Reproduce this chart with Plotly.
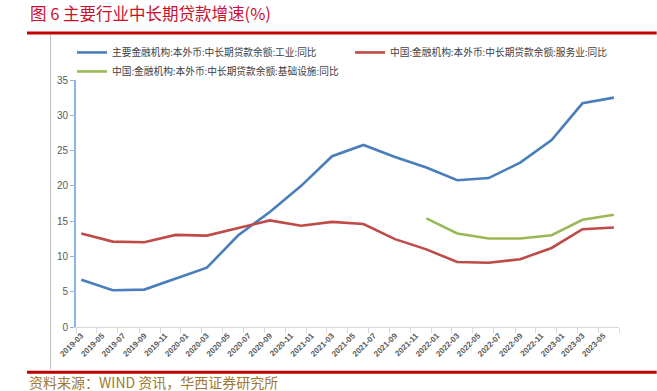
import plotly.graph_objects as go

# ---- data ----
quarters = ["2019-03", "2019-06", "2019-09", "2019-12", "2020-03", "2020-06", "2020-09", "2020-12",
            "2021-03", "2021-06", "2021-09", "2021-12", "2022-03", "2022-06", "2022-09", "2022-12",
            "2023-03", "2023-06"]
industry = [6.7, 5.2, 5.3, 6.9, 8.4, 13.0, 16.3, 20.0, 24.2, 25.8, 24.1, 22.6, 20.8, 21.1, 23.3, 26.5, 31.7, 32.5]
services = [13.25, 12.1, 12.0, 13.05, 12.95, 14.05, 15.1, 14.35, 14.9, 14.6, 12.45, 11.0, 9.2, 9.1, 9.6, 11.2, 13.85, 14.1]
infra_quarters = ["2021-12", "2022-03", "2022-06", "2022-09", "2022-12", "2023-03", "2023-06"]
infra = [15.4, 13.25, 12.55, 12.55, 13.0, 15.2, 15.9]

tick_months = ["2019-03", "2019-05", "2019-07", "2019-09", "2019-11", "2020-01", "2020-03", "2020-05",
               "2020-07", "2020-09", "2020-11", "2021-01", "2021-03", "2021-05", "2021-07", "2021-09",
               "2021-11", "2022-01", "2022-03", "2022-05", "2022-07", "2022-09", "2022-11", "2023-01",
               "2023-03", "2023-05"]

names = ["主要金融机构:本外币:中长期贷款余额:工业:同比",
         "中国:金融机构:本外币:中长期贷款余额:服务业:同比",
         "中国:金融机构:本外币:中长期贷款余额:基础设施:同比"]
colors = ["#4A7EBB", "#BE4B48", "#98B954"]

title_text = "图 6 主要行业中长期贷款增速(%)"
source_text = "资料来源：WIND 资讯，华西证券研究所"

W, H = 657, 391
plot_left, plot_right, plot_top, plot_bottom = 76, 619.3, 80, 326.7
L, T = plot_left, plot_top
R, B = W - plot_right, H - plot_bottom
pw, ph = W - L - R, H - T - B

def px(x):
    return (x - L) / pw

def py(y):
    return (H - B - y) / ph

CJK = "Noto Sans CJK SC"

fig = go.Figure()
for xs, ys, nm, c in [(quarters, industry, names[0], colors[0]),
                      (quarters, services, names[1], colors[1]),
                      (infra_quarters, infra, names[2], colors[2])]:
    fig.add_trace(go.Scatter(x=[q + "-01" for q in xs], y=ys, name=nm, mode="lines",
                             line=dict(color=c, width=2.6),
                             xperiod="M1", xperiodalignment="middle"))

fig.update_layout(
    width=W, height=H,
    margin=dict(l=L, r=R, t=T, b=B, autoexpand=False),
    paper_bgcolor="white", plot_bgcolor="white",
    font=dict(family=CJK, color="#595959", size=10),
    showlegend=True,
    legend=dict(orientation="h", x=px(72), y=py(38), xanchor="left", yanchor="top",
                font=dict(size=9.7, color="#404040", family=CJK),
                entrywidth=233, entrywidthmode="pixels", tracegroupgap=0,
                bgcolor="rgba(0,0,0,0)"),
    xaxis=dict(type="date", range=["2019-03-01", "2023-07-01"],
               # labels sit a little inside each two-month slot, as in the reference
               tickvals=[m + "-16" for m in tick_months], ticktext=tick_months,
               tickangle=-45,
               tickfont=dict(size=8, color="#595959", family="Liberation Sans", weight="bold"),
               showline=True, linecolor="#D9D9D9", linewidth=1,
               ticks="",
               minor=dict(dtick="M2", tick0="2019-03-01", ticks="outside", ticklen=5, tickcolor="#D9D9D9"),
               showgrid=False, zeroline=False),
    yaxis=dict(range=[0, 35], dtick=5, showline=True, linecolor="#8EB4E3", linewidth=2,
               ticks="outside", ticklen=4, tickcolor="#8EB4E3",
               tickfont=dict(size=10, color="#595959", family="Liberation Sans"),
               showgrid=False, zeroline=False),
)

shapes = [
    dict(type="line", xref="paper", yref="paper", x0=px(27), x1=px(657), y0=py(33), y1=py(33),
         line=dict(color="#C00000", width=3)),
    dict(type="line", xref="paper", yref="paper", x0=px(27), x1=px(657), y0=py(372), y1=py(372),
         line=dict(color="#C00000", width=3)),
    dict(type="line", xref="paper", yref="paper", x0=px(50.5), x1=px(50.5), y0=py(35), y1=py(369),
         line=dict(color="#BFBFBF", width=1)),
]
fig.update_layout(shapes=shapes)

fig.add_annotation(text=title_text, xref="paper", yref="paper", x=px(28), y=py(13),
                   xanchor="left", yanchor="middle", showarrow=False,
                   font=dict(family=CJK, size=16.5, color="#C8102E"))
fig.add_annotation(text=source_text, xref="paper", yref="paper", x=px(27), y=py(382),
                   xanchor="left", yanchor="middle", showarrow=False,
                   font=dict(family=CJK, size=14, color="#A0782F"))

# remove the default 8px body margin so the figure sits at the window's corner
fig.write_html("out.html", config={"displayModeBar": False},
               post_script="document.body.style.margin='0px';")
